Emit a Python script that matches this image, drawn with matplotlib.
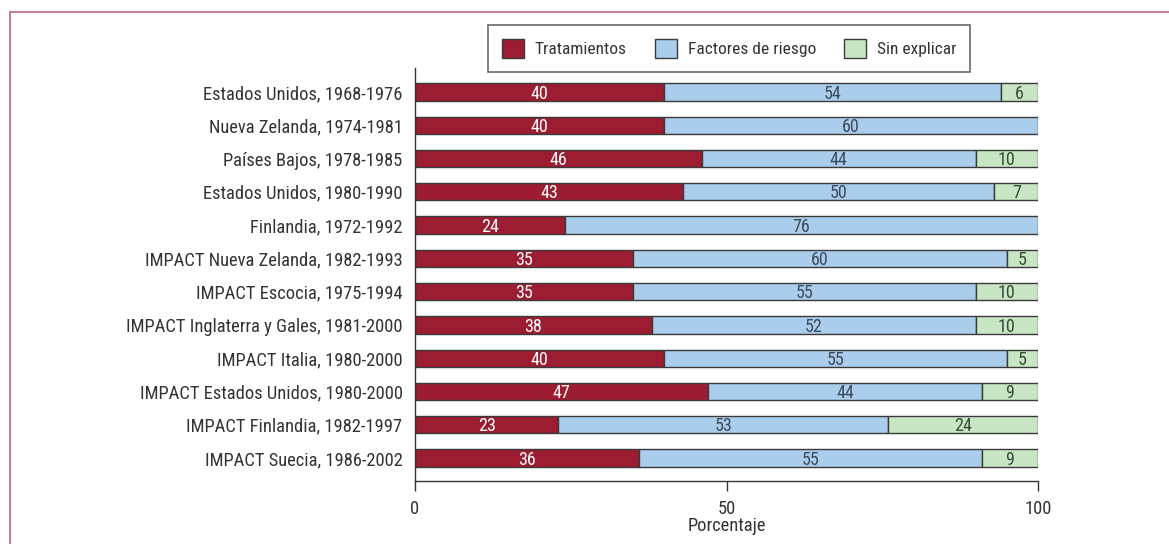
import matplotlib
matplotlib.use("Agg")
import matplotlib.pyplot as plt
from matplotlib.patches import Rectangle, Patch
from matplotlib import font_manager

names = {f.name for f in font_manager.fontManager.ttflist}
candidates = ["Liberation Sans Narrow", "Roboto Condensed", "Open Sans Condensed",
              "DejaVu Sans Condensed", "Liberation Sans"]
family = next((c for c in candidates if c in names), "DejaVu Sans")
plt.rcParams["font.family"] = [family, "DejaVu Sans"]
narrow = family != "Liberation Sans"
fs_cat = 13.3 if narrow else 11.5
fs_val = 13 if narrow else 11
fs_leg = 12.5 if narrow else 11.5

categories = [
    "Estados Unidos, 1968-1976",
    "Nueva Zelanda, 1974-1981",
    "Países Bajos, 1978-1985",
    "Estados Unidos, 1980-1990",
    "Finlandia, 1972-1992",
    "IMPACT Nueva Zelanda, 1982-1993",
    "IMPACT Escocia, 1975-1994",
    "IMPACT Inglaterra y Gales, 1981-2000",
    "IMPACT Italia, 1980-2000",
    "IMPACT Estados Unidos, 1980-2000",
    "IMPACT Finlandia, 1982-1997",
    "IMPACT Suecia, 1986-2002",
]
tratamientos = [40, 40, 46, 43, 24, 35, 35, 38, 40, 47, 23, 36]
factores = [54, 60, 44, 50, 76, 60, 55, 52, 55, 44, 53, 55]
sin_explicar = [6, 0, 10, 7, 0, 5, 10, 10, 5, 9, 24, 9]
series_names = ["Tratamientos", "Factores de riesgo", "Sin explicar"]
xticks = [0, 50, 100]

colors = ["#9c1c31", "#aacdec", "#c8e6c3"]
text_colors = ["white", "#3d4b5c", "#3a4a3a"]
edge = "#3a3a3a"

W, H = 1169, 544
fig = plt.figure(figsize=(W / 100, H / 100), dpi=100)
ax = fig.add_axes([415 / W, 1 - 481 / H, (1038 - 415) / W, (481 - 68) / H])

ypos = list(range(len(categories)))
left = [0] * len(categories)
for vals, col, tc in zip([tratamientos, factores, sin_explicar], colors, text_colors):
    for i, v in enumerate(vals):
        if v == 0:
            continue
        ax.barh(ypos[i], v, left=left[i], height=0.52, color=col,
                edgecolor=edge, linewidth=1.0)
        ax.text(left[i] + v / 2, ypos[i] + 0.05, str(v), ha="center", va="center",
                color=tc, fontsize=fs_val)
        left[i] += v

ax.set_ylim(11.69, -0.72)
ax.set_xlim(0, 100)
ax.set_yticks(ypos)
ax.set_yticklabels(categories, fontsize=fs_cat, color="#333333")
ax.tick_params(axis="y", length=0, pad=9)
ax.set_xticks(xticks)
ax.set_xticklabels([str(t) for t in xticks], fontsize=fs_cat, color="#333333")
ax.tick_params(axis="x", length=7, width=1, color="#333333", pad=7)
ax.set_xlabel("Porcentaje", fontsize=fs_cat, color="#333333", labelpad=-1)
for s in ["top", "right"]:
    ax.spines[s].set_visible(False)
for s in ["left", "bottom"]:
    ax.spines[s].set_color("#333333")
    ax.spines[s].set_linewidth(1)

handles = [Patch(facecolor=c, edgecolor=edge, linewidth=1) for c in colors]
leg = fig.legend(handles, series_names, loc="center",
                 bbox_to_anchor=(729 / W, 1 - 48.5 / H), ncol=3, frameon=True,
                 fancybox=False, fontsize=fs_leg, handlelength=1.3, handleheight=1.3,
                 columnspacing=1.6, handletextpad=0.6, borderpad=0.8)
leg.get_frame().set_edgecolor("#444444")
leg.get_frame().set_linewidth(1.2)
for t in leg.get_texts():
    t.set_color("#333333")

# outer frame of the figure panel
fig.patches.append(Rectangle((9.5 / W, 0 - 0.05), 1.1, 1 - 12 / H + 0.05,
                             transform=fig.transFigure, fill=False,
                             edgecolor="#c07088", linewidth=1.3, clip_on=False))

fig.savefig("out.png", dpi=100)
